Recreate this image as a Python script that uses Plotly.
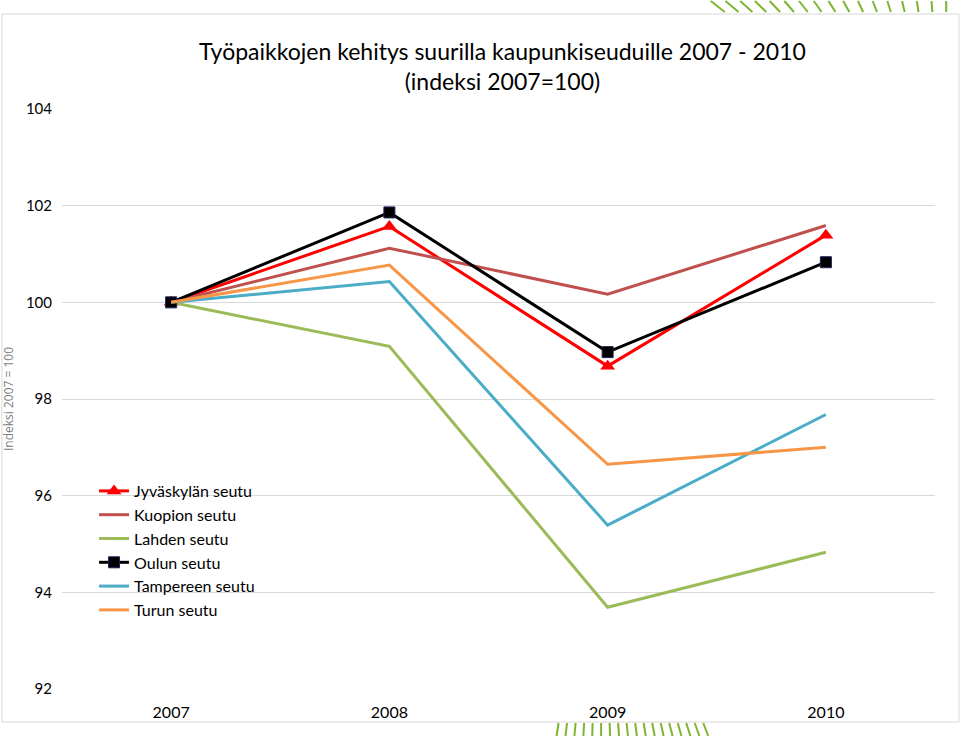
import plotly.graph_objects as go

years = ["2007", "2008", "2009", "2010"]
jyvaskyla = [100.0, 101.57, 98.68, 101.39]
kuopio = [100.0, 101.12, 100.17, 101.59]
lahti = [100.0, 99.09, 93.69, 94.83]
oulu = [100.0, 101.86, 98.97, 100.83]
tampere = [100.0, 100.43, 95.39, 97.68]
turku = [100.0, 100.77, 96.65, 97.00]
y_ticks = [92, 94, 96, 98, 100, 102, 104]

FONT = "Lato, Liberation Sans, sans-serif"

fig = go.Figure()
fig.add_trace(go.Scatter(x=years, y=jyvaskyla, name="Jyväskylän seutu", mode="lines+markers",
                         line=dict(color="#FF0000", width=3),
                         marker=dict(symbol="triangle-up", size=13, color="#FF0000")))
fig.add_trace(go.Scatter(x=years, y=kuopio, name="Kuopion seutu", mode="lines",
                         line=dict(color="#C0504D", width=3)))
fig.add_trace(go.Scatter(x=years, y=lahti, name="Lahden seutu", mode="lines",
                         line=dict(color="#9BBB59", width=3)))
fig.add_trace(go.Scatter(x=years, y=oulu, name="Oulun seutu", mode="lines+markers",
                         line=dict(color="#000000", width=3),
                         marker=dict(symbol="square", size=11, color="#000000",
                                     line=dict(color="#1F1F5F", width=1))))
fig.add_trace(go.Scatter(x=years, y=tampere, name="Tampereen seutu", mode="lines",
                         line=dict(color="#4BACC6", width=3)))
fig.add_trace(go.Scatter(x=years, y=turku, name="Turun seutu", mode="lines",
                         line=dict(color="#F79646", width=3)))

def px(x):
    return (x - 62) / 872

def py(y):
    return (689 - y) / 580

shapes = [dict(type="rect", xref="paper", yref="paper",
               x0=px(2), x1=px(958), y0=py(722), y1=py(14),
               line=dict(color="#D9D9D9", width=1), fillcolor="rgba(0,0,0,0)", layer="below")]

# decorative green stripes (top right and bottom)
n_top = 17
for i in range(n_top):
    xt = 710 + i * 14.7
    slant = 14 - i * 14 / (n_top - 1)
    shapes.append(dict(type="line", xref="paper", yref="paper",
                       x0=px(xt), x1=px(xt + slant), y0=py(1), y1=py(12),
                       line=dict(color="#7DB530", width=2)))
n_bot = 18
for i in range(n_bot):
    xb = 558 + i * 8.5
    slant = -2 + i * 7 / (n_bot - 1)
    shapes.append(dict(type="line", xref="paper", yref="paper",
                       x0=px(xb), x1=px(xb + slant), y0=py(723), y1=py(736),
                       line=dict(color="#7DB530", width=2)))

fig.update_layout(
    width=960, height=738,
    margin=dict(l=62, r=25, t=109, b=49, autoexpand=False),
    paper_bgcolor="white", plot_bgcolor="white",
    font=dict(family=FONT, size=15, color="#000000"),
    showlegend=True,
    legend=dict(x=px(94), y=py(474), xanchor="left", yanchor="top",
                bgcolor="rgba(0,0,0,0)", font=dict(family=FONT, size=16),
                tracegroupgap=0, itemwidth=30),
    xaxis=dict(type="category", range=[-0.5, 3.5], showgrid=False, zeroline=False,
               showline=False, ticks="", ticklabelstandoff=12,
               tickfont=dict(family=FONT, size=16)),
    yaxis=dict(range=[92, 104], tickvals=y_ticks, showgrid=True, gridcolor="#D9D9D9",
               gridwidth=1, zeroline=False, showline=False, ticks="",
               ticklabelstandoff=9,
               tickfont=dict(family=FONT, size=15),
               title=dict(text="Indeksi 2007 = 100", standoff=10,
                          font=dict(family="Open Sans, sans-serif", size=12, color="#808080"))),
    shapes=shapes,
    annotations=[dict(text="Työpaikkojen kehitys suurilla kaupunkiseuduille 2007 - 2010<br>(indeksi 2007=100)",
                      xref="paper", yref="paper", x=px(502), y=py(35),
                      xanchor="center", yanchor="top", showarrow=False,
                      font=dict(family=FONT, size=23, color="#000000"))],
)

fig.write_html("out.html", config={"displayModeBar": False},
               post_script="document.body.style.margin='0';document.body.style.overflow='hidden';")
